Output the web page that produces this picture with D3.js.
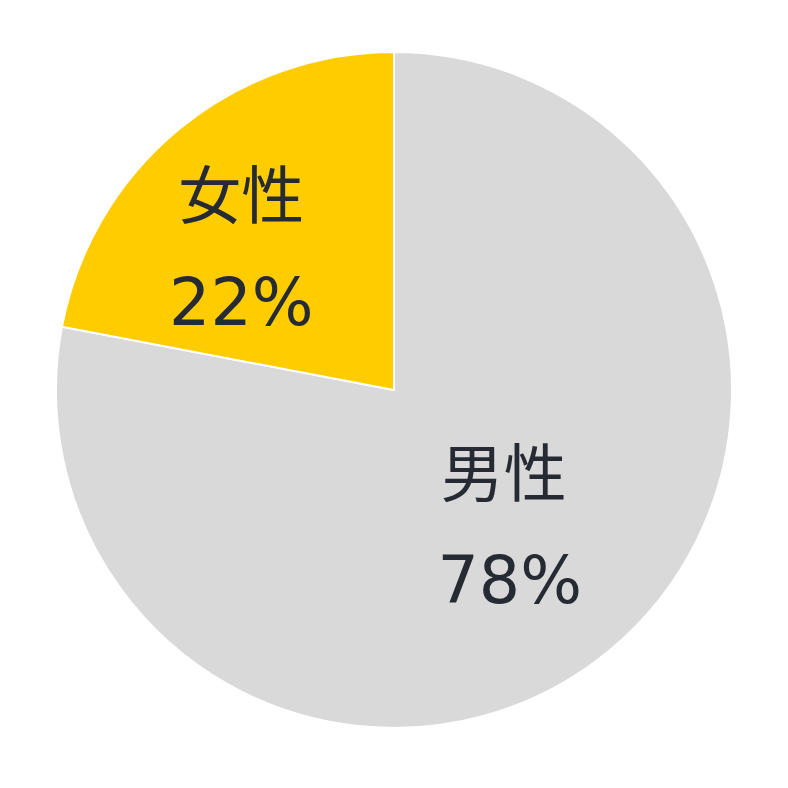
<!DOCTYPE html>
<html>
<head>
<meta charset="utf-8">
<script src="https://cdn.jsdelivr.net/npm/d3@7"></script>
<style>
  html, body { margin: 0; padding: 0; background: #fff; }
  svg text { font-family: "DejaVu Sans", "Noto Sans CJK JP", sans-serif; }
</style>
</head>
<body>
<svg id="chart" width="788" height="788"></svg>
<script>
var categories = ['男性', '女性'];
var values = [78, 22];
var colors = ['#d9d9d9', '#ffcc00'];

var width = 788, height = 788;
var cx = 394, cy = 390, radius = 338;

var svg = d3.select('#chart');
var g = svg.append('g').attr('transform', 'translate(' + cx + ',' + cy + ')');

var slices = d3.pie().sort(null).value(function (d, i) { return values[i]; })(categories);

var arc = d3.arc().innerRadius(0).outerRadius(radius);
var labelArc = d3.arc().innerRadius(180).outerRadius(180);

g.selectAll('path')
  .data(slices)
  .enter()
  .append('path')
    .attr('d', arc)
    .attr('fill', function (d, i) { return colors[i]; })
    .attr('stroke', '#fff')
    .attr('stroke-width', 2);

// small nudges so labels sit where the original puts them
var nudge = [[-5, -7], [-38, -7]];

var labels = g.selectAll('g.label')
  .data(slices)
  .enter()
  .append('g')
    .attr('class', 'label')
    .attr('transform', function (d, i) {
      var c = labelArc.centroid(d);
      return 'translate(' + (c[0] + nudge[i][0]) + ',' + (c[1] + nudge[i][1]) + ')';
    });

labels.append('text')
  .attr('text-anchor', 'middle')
  .attr('y', -26)
  .attr('font-size', 63)
  .attr('fill', '#262a33')
  .text(function (d) { return d.data; });

labels.append('text')
  .attr('text-anchor', 'middle')
  .attr('x', function (d, i) { return i === 0 ? 6 : 0; })
  .attr('y', 81)
  .attr('font-size', 65)
  .attr('fill', '#262a33')
  .text(function (d) { return d.value + '%'; });
</script>
</body>
</html>
